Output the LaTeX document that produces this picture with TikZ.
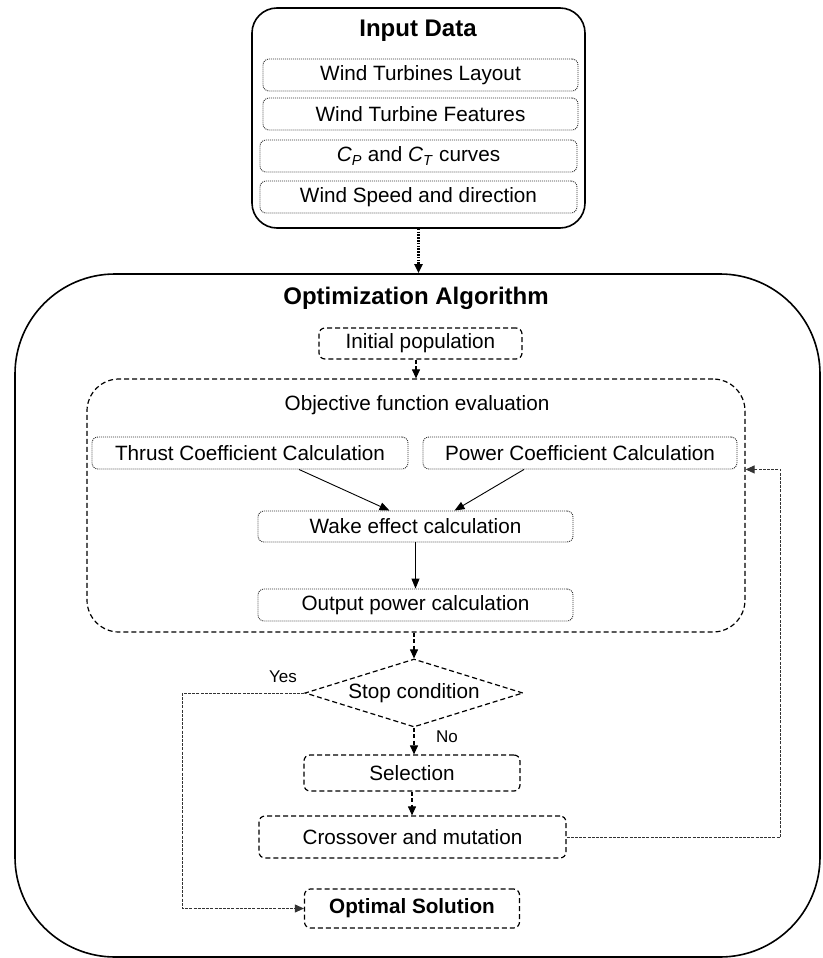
\documentclass[tikz,border=0pt]{standalone}
\usepackage{fontspec}
\setmainfont{Liberation Sans}
\usetikzlibrary{arrows.meta,shapes.geometric,calc}
\begin{document}
\begin{tikzpicture}[x=1pt,y=-1pt,
  txt/.style={font=\fontsize{20.7}{24}\selectfont},
  ttl/.style={font=\fontsize{24}{28}\selectfont\bfseries},
  lbl/.style={font=\fontsize{17}{20}\selectfont},
  outerbox/.style={draw, line width=1.6pt, inner sep=0pt},
  dotbox/.style={draw=black!80, line width=0.9pt, dash pattern=on 1pt off 1pt, rounded corners=6pt, inner sep=0pt, txt},
  dashbox/.style={draw, line width=1.2pt, dash pattern=on 5pt off 3pt, rounded corners=6pt, inner sep=0pt, txt},
  flow/.style={line width=1.1pt, dash pattern=on 4pt off 2.5pt, -{Triangle[length=9pt,width=8pt]}},
  solidarrow/.style={line width=0.9pt, -{Triangle[length=10pt,width=8pt]}},
  fine/.style={draw=black!80, line width=0.9pt, dash pattern=on 3pt off 1.2pt},
  thick dots/.style={line width=2.2pt, dash pattern=on 1.6pt off 1.2pt, -{Triangle[length=9pt,width=8pt]}}
]
\useasboundingbox (0,0) rectangle (822,958);

% Input data
\node[outerbox, rounded corners=25pt, minimum width=333pt, minimum height=220pt] (inbox) at (418.5,118) {};
\node[ttl] (intitle) at (418,31) {Input Data};
\node[dotbox, minimum width=315pt, minimum height=32pt] (b1) at (420.5,75) {Wind Turbines Layout};
\node[dotbox, minimum width=315pt, minimum height=32pt] (b2) at (420.5,114) {Wind Turbine Features};
\node[dotbox, minimum width=317pt, minimum height=32pt] (b3) at (418.5,156) {\textit{C}\textsubscript{\textit{P}} and \textit{C}\textsubscript{\textit{T}} curves};
\node[dotbox, minimum width=317pt, minimum height=32pt] (b4) at (418.5,197) {Wind Speed and direction};

% Optimization algorithm
\node[outerbox, rounded corners=100pt, minimum width=805pt, minimum height=683pt] (opt) at (417.5,615.5) {};
\node[ttl] (opttitle) at (416,298) {Optimization Algorithm};

\node[dashbox, minimum width=203pt, minimum height=31pt] (init) at (420.5,343.5) {Initial population};

\node[draw, line width=1.2pt, dash pattern=on 5pt off 3pt, rounded corners=32pt, minimum width=658pt, minimum height=253pt, inner sep=0pt] (obj) at (416,505.5) {};
\node[txt] (objtitle) at (417,405) {Objective function evaluation};

\node[dotbox, minimum width=316pt, minimum height=32pt] (thrust) at (250,453) {Thrust Coefficient Calculation};
\node[dotbox, minimum width=314pt, minimum height=32pt] (power) at (580,453) {Power Coefficient Calculation};
\node[dotbox, minimum width=315pt, minimum height=31pt] (wake) at (415.5,526.5) {Wake effect calculation};
\node[dotbox, minimum width=315pt, minimum height=32pt] (outp) at (415.5,605) {Output power calculation};

\node[diamond, draw, line width=1.2pt, dash pattern=on 5pt off 3pt, minimum width=218pt, minimum height=68pt, inner sep=0pt, aspect=3.2, txt] (stop) at (414,693) {Stop condition};

\node[dashbox, minimum width=216pt, minimum height=36pt] (sel) at (412,773) {Selection};
\node[dashbox, minimum width=307pt, minimum height=42pt] (cross) at (412.5,837) {Crossover and mutation};
\node[dashbox, minimum width=215pt, minimum height=39pt, font=\fontsize{20.7}{24}\selectfont\bfseries] (optsol) at (412,908.5) {Optimal Solution};

\node[lbl] (yes) at (283,677) {Yes};
\node[lbl] (no) at (447,737) {No};

% connectors
\draw[thick dots] (inbox.south) -- (inbox.south |- opt.north);
\draw[flow] (init.south -| obj.north) -- (obj.north);
\draw[flow] (obj.south -| stop.north) -- (stop.north);
\draw[flow] (stop.south) -- (stop.south |- sel.north);
\draw[flow] (sel.south) -- (sel.south |- cross.north);

\draw[solidarrow] ([xshift=49pt]thrust.south) -- ([xshift=-26pt]wake.north);
\draw[solidarrow] ([xshift=-56pt]power.south) -- ([xshift=39pt]wake.north);
\draw[solidarrow] (wake.south) -- (outp.north);

\draw[fine, -{Triangle[length=9pt,width=8pt]}] (stop.west) -- ++(-122,0) |- (optsol.west);
\draw[fine, -{Triangle[length=9pt,width=8pt]}] (cross.east) -- ++(214,0) |- (obj.east |- power.south);
\end{tikzpicture}
\end{document}
